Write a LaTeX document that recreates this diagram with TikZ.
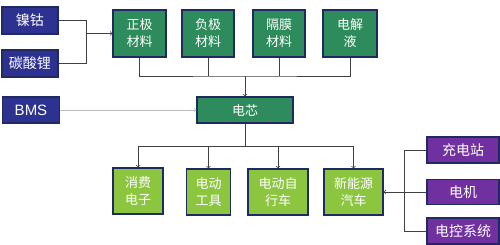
\documentclass[tikz,border=0pt]{standalone}
\usepackage{fontspec}
\setmainfont{Liberation Sans}
\newfontfamily\cjk{Noto Sans CJK SC}
\usepackage{tikz}

\definecolor{bluebox}{HTML}{2D3190}
\definecolor{greenbox}{HTML}{2E8C5C}
\definecolor{limebox}{HTML}{8CC63F}
\definecolor{purplebox}{HTML}{7030A0}
\definecolor{edgeblue}{HTML}{1E2A60}

\tikzset{
    box/.style={draw=edgeblue,line width=1.2pt,text=white,align=center,inner sep=1pt,
        font=\cjk\fontsize{13}{17}\selectfont},
    srcbox/.style={box,fill=bluebox,minimum width=56pt,minimum height=27pt,font=\cjk\fontsize{14}{16}\selectfont},
    matbox/.style={box,fill=greenbox,minimum height=47pt},
    usebox/.style={box,fill=limebox,minimum height=46pt},
    partbox/.style={box,fill=purplebox,minimum width=72pt,minimum height=26pt,font=\cjk\fontsize{14}{16}\selectfont},
    link/.style={black!75,line width=0.7pt}
}

\begin{document}
\begin{tikzpicture}[x=1pt,y=-1pt]
        \useasboundingbox (0,0) rectangle (500,244);
        % raw materials
        \node[srcbox] (nie) at (30,20.5) {镍钴};
        \node[srcbox] (tan) at (30,63.5) {碳酸锂};
        \node[srcbox,minimum width=57pt,minimum height=26pt,font=\fontsize{15}{16}\selectfont] (bms) at (31,110) {BMS};
        % cell materials
        \node[matbox,minimum width=53pt] (zheng) at (139.5,33.5) {正极\\材料};
        \node[matbox,minimum width=52pt] (fu) at (208,33.5) {负极\\材料};
        \node[matbox,minimum width=52pt] (ge) at (279,33.5) {隔膜\\材料};
        \node[matbox,minimum width=54pt] (ye) at (350,33.5) {电解\\液};
        \node[box,fill=greenbox,minimum width=96pt,minimum height=26pt] (xin) at (245,110) {电芯};
        % applications
        \node[usebox,minimum width=50pt] (xiao) at (138,191) {消费\\电子};
        \node[usebox,minimum width=44pt] (gong) at (208.5,192) {电动\\工具};
        \node[usebox,minimum width=60pt] (zxc) at (278,192) {电动自\\行车};
        \node[usebox,minimum width=59pt] (che) at (353.5,192) {新能源\\汽车};
        % vehicle parts
        \node[partbox] (chong) at (463,150) {充电站};
        \node[partbox,minimum height=25pt] (ji) at (463,192) {电机};
        \node[partbox] (kong) at (463,231) {电控系统};

        \coordinate (lj) at (86,33.5);
        \coordinate (top) at (245,76);
        \coordinate (bot) at (245,146);
        \coordinate (rj) at (404,192);

        \draw[link] (nie.east) -| (lj);
        \draw[link] (tan.east) -| (lj);
        \draw[link,->] (lj) -- (zheng);
        \draw[link] (zheng.south) |- (top) -| (ye.south);
        \draw[link] (fu.south) -- (fu.south |- top);
        \draw[link] (ge.south) -- (ge.south |- top);
        \draw[link,->] (top) -- (xin);
        \draw[gray!50,line width=0.7pt,->] (bms) -- (xin);
        \draw[link] (xin.south) -- (bot);
        \draw[link,->] (bot) -| (xiao);
        \draw[link,->] (bot) -| (che);
        \draw[link,->] (gong.north |- bot) -- (gong);
        \draw[link,->] (zxc.north |- bot) -- (zxc);
        \draw[link] (chong.west) -| (rj);
        \draw[link] (kong.west) -| (rj);
        \draw[link,->] (ji) -- (che);
    \end{tikzpicture}
\end{document}
